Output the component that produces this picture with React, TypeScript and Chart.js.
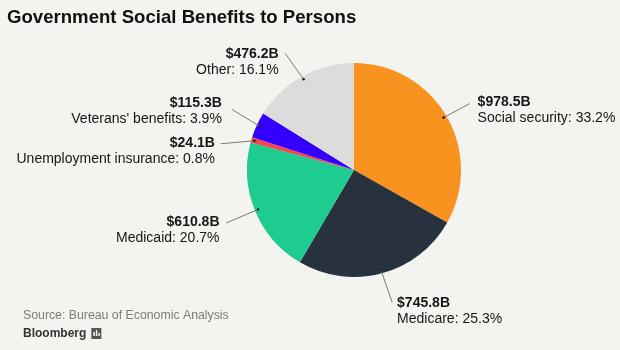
import React, { useEffect, useRef } from "react";
import { Chart, registerables } from "chart.js";

Chart.register(...registerables);

const TITLE = "Government Social Benefits to Persons";
const SOURCE = "Source: Bureau of Economic Analysis";
const BRAND = "Bloomberg";

const categories = [
  "Social security",
  "Medicare",
  "Medicaid",
  "Unemployment insurance",
  "Veterans' benefits",
  "Other",
];
const values = [978.5, 745.8, 610.8, 24.1, 115.3, 476.2];
const percents = [33.2, 25.3, 20.7, 0.8, 3.9, 16.1];
const colors = ["#f7931e", "#27323e", "#1fcc90", "#f2464b", "#3300ff", "#dcdcdb"];

// leader line offset (from arc edge point) and text offset from the line end
const labelLayout = [
  { dx: 26, dy: -14, align: "left", tx: 8, ty: -1.5 },
  { dx: 11, dy: 32, align: "left", tx: 5, ty: 1 },
  { dx: -32, dy: 13.5, align: "right", tx: -6.5, ty: -1 },
  { dx: -34, dy: 3, align: "right", tx: -5.5, ty: -1 },
  { dx: -28, dy: -17, align: "right", tx: -10, ty: -6 },
  { dx: -18.5, dy: -26, align: "right", tx: -6.5, ty: 1 },
];

const FONT = '"Liberation Sans", Arial, Helvetica, sans-serif';

const labelPlugin = {
  id: "labelPlugin",
  afterDraw(chart: any) {
    const ctx = chart.ctx as CanvasRenderingContext2D;
    const meta = chart.getDatasetMeta(0);
    ctx.save();
    // title
    ctx.fillStyle = "#111111";
    ctx.font = `bold 18.6px ${FONT}`;
    ctx.textAlign = "left";
    ctx.textBaseline = "middle";
    ctx.fillText(TITLE, 7, 18);

    meta.data.forEach((arc: any, i: number) => {
      const p = arc.getProps(["x", "y", "startAngle", "endAngle", "outerRadius"], true);
      const mid = (p.startAngle + p.endAngle) / 2;
      const r = p.outerRadius * 0.97;
      const sx = p.x + Math.cos(mid) * r;
      const sy = p.y + Math.sin(mid) * r;
      const L = labelLayout[i];
      const ex = sx + L.dx;
      const ey = sy + L.dy;
      ctx.strokeStyle = "#7a7a7a";
      ctx.lineWidth = 1;
      ctx.beginPath();
      ctx.moveTo(sx, sy);
      ctx.lineTo(ex, ey);
      ctx.stroke();
      ctx.fillStyle = "#222222";
      ctx.beginPath();
      ctx.arc(sx, sy, 1.3, 0, Math.PI * 2);
      ctx.fill();

      const tx = ex + L.tx;
      const ty = ey + L.ty;
      ctx.textAlign = L.align as CanvasTextAlign;
      ctx.textBaseline = "middle";
      ctx.fillStyle = "#161616";
      ctx.font = `bold 14px ${FONT}`;
      ctx.fillText(`$${values[i].toFixed(1)}B`, tx, ty);
      ctx.font = `14px ${FONT}`;
      ctx.fillText(`${categories[i]}: ${percents[i].toFixed(1)}%`, tx, ty + 16);
    });

    // source
    ctx.textAlign = "left";
    ctx.fillStyle = "#7c7c7c";
    ctx.font = `12.3px ${FONT}`;
    ctx.fillText(SOURCE, 23, 316);
    ctx.fillStyle = "#333333";
    ctx.font = `bold 12px ${FONT}`;
    ctx.fillText(BRAND, 23, 334);
    const bw = ctx.measureText(BRAND).width;
    ctx.fillStyle = "#555555";
    ctx.fillRect(23 + bw + 5, 328, 10, 11);
    ctx.fillStyle = "#f3f3ef";
    ctx.fillRect(23 + bw + 7, 332, 1.5, 4);
    ctx.fillRect(23 + bw + 9.5, 330, 1.5, 6);
    ctx.fillRect(23 + bw + 12, 333, 1.5, 3);
    ctx.restore();
  },
};

export default function App() {
  const ref = useRef<HTMLCanvasElement | null>(null);
  useEffect(() => {
    if (!ref.current) return;
    const chart = new Chart(ref.current, {
      type: "pie",
      data: {
        labels: categories,
        datasets: [
          {
            data: values,
            backgroundColor: colors,
            borderWidth: 0,
          },
        ],
      },
      options: {
        animation: false,
        responsive: false,
        layout: { padding: { left: 247, right: 159, top: 63, bottom: 73 } },
        plugins: {
          legend: { display: false },
          tooltip: { enabled: false },
          title: { display: false },
        },
      },
      plugins: [labelPlugin],
    });
    return () => chart.destroy();
  }, []);
  return (
    <div
      style={{
        position: "fixed",
        left: 0,
        top: 0,
        width: 620,
        height: 350,
        background: "#f3f3ef",
      }}
    >
      <canvas ref={ref} width={620} height={350} style={{ width: 620, height: 350 }} />
    </div>
  );
}
